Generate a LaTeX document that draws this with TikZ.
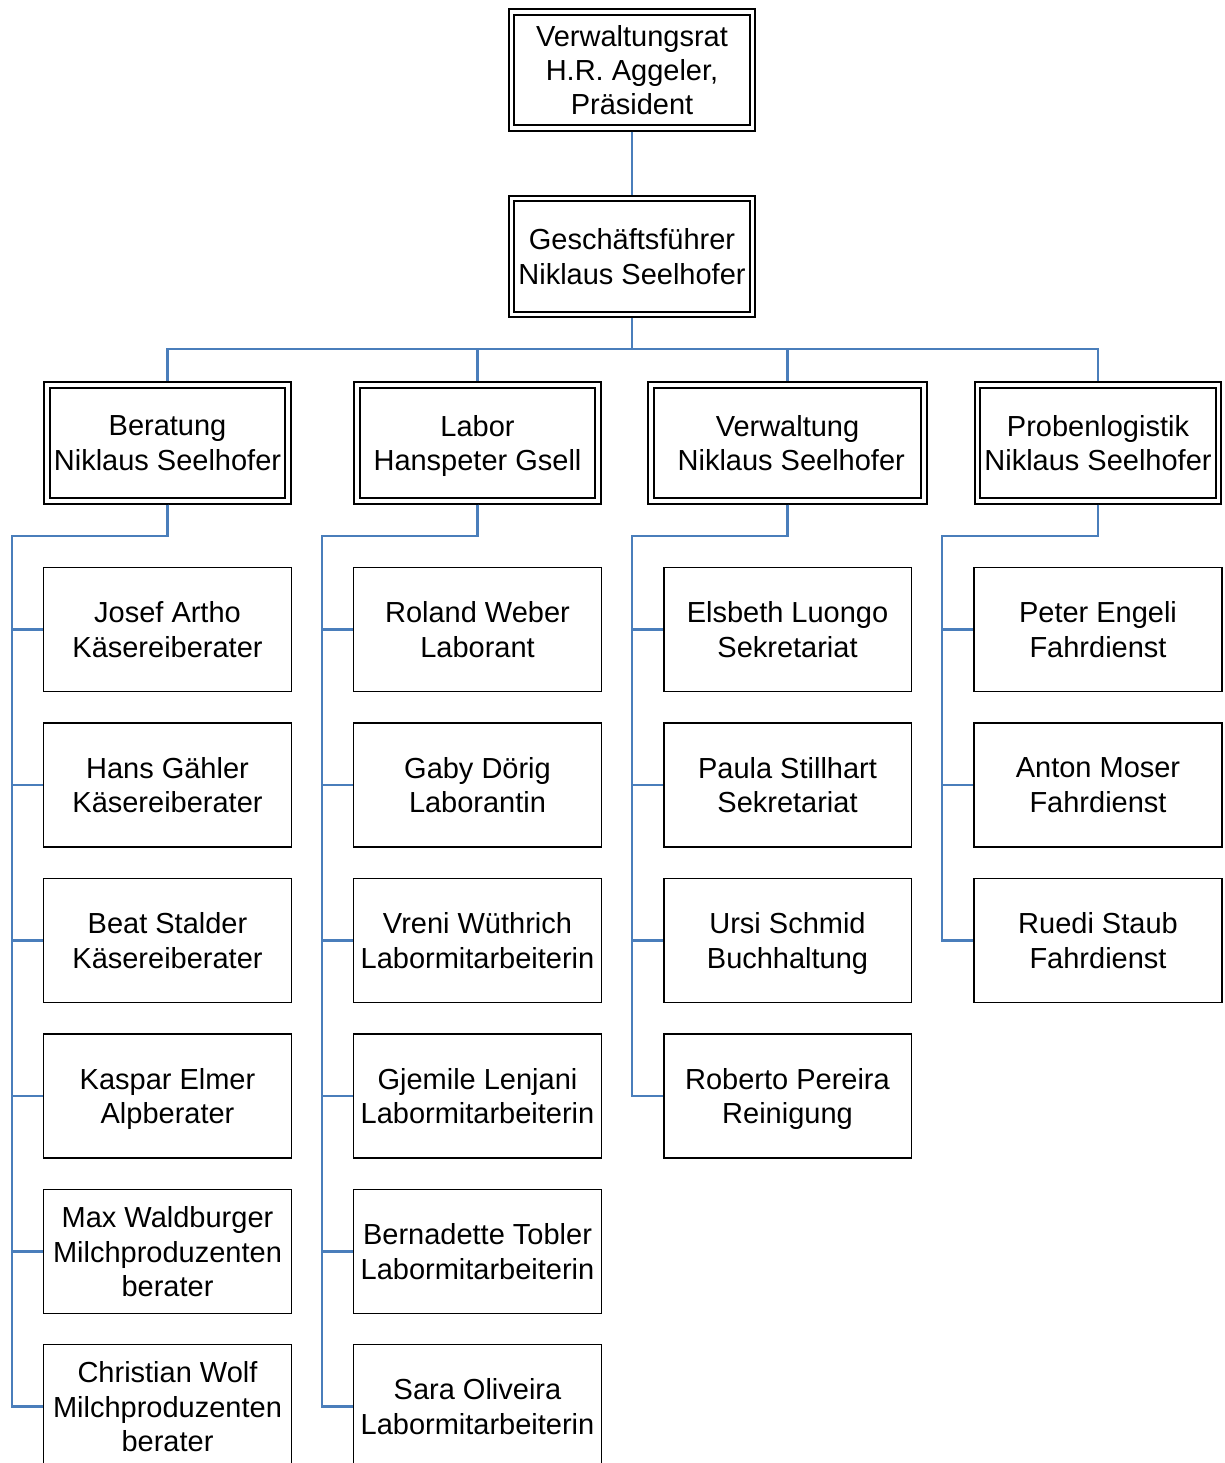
\documentclass[tikz,border=0pt]{standalone}
\usepackage{fontspec}
\setmainfont{Liberation Sans}
\usepackage{tikz}
\usetikzlibrary{positioning}
\definecolor{linkblue}{HTML}{4A7EBB}
\tikzset{
  chef/.style={draw, double, line width=1.1pt, double distance=2pt, outer sep=2.1pt,
    minimum width=4.82cm, minimum height=2.32cm, inner sep=0pt, align=center,
    text depth=0pt, font=\fontsize{16.5}{19.6}\selectfont},
  person/.style={draw, line width=1.1pt, minimum width=4.96cm, minimum height=2.48cm,
    inner sep=0pt, align=center, text depth=0pt, font=\fontsize{16.5}{19.6}\selectfont},
  link/.style={draw=linkblue, line width=1.2pt}
}
\begin{document}
\begin{tikzpicture}[x=0.02cm,y=-0.02cm]

    \useasboundingbox (0,0) rectangle (1224,1463);
    \clip (0,0) rectangle (1224,1463);

    % Leitung
    \node[chef] (vr) at (632,70) {Verwaltungsrat\\H.R. Aggeler,\\Präsident};
    \node[chef] (gf) at (632,256.5) {Geschäftsführer\\Niklaus Seelhofer};

    % Abteilungen
    \node[chef] (beratung) at (167.5,443) {Beratung\\Niklaus Seelhofer};
    \node[chef] (labor) at (477.5,443) {Labor\\Hanspeter Gsell};
    \node[chef, minimum width=5.46cm] (verwaltung) at (787.5,443) {Verwaltung\\\hspace*{0.15cm}Niklaus Seelhofer};
    \node[chef] (proben) at (1098,443) {Probenlogistik\\Niklaus Seelhofer};

    % Beratung
    \node[person] (b1) at (167.5,629.5) {Josef Artho\\Käsereiberater};
    \node[person] (b2) at (167.5,785) {Hans Gähler\\Käsereiberater};
    \node[person] (b3) at (167.5,940.5) {Beat Stalder\\Käsereiberater};
    \node[person] (b4) at (167.5,1096) {Kaspar Elmer\\Alpberater};
    \node[person] (b5) at (167.5,1251.5) {Max Waldburger\\Milchproduzenten\\berater};
    \node[person] (b6) at (167.5,1406.5) {Christian Wolf\\Milchproduzenten\\berater};

    % Labor
    \node[person] (l1) at (477.5,629.5) {Roland Weber\\Laborant};
    \node[person] (l2) at (477.5,785) {Gaby Dörig\\Laborantin};
    \node[person] (l3) at (477.5,940.5) {Vreni Wüthrich\\Labormitarbeiterin};
    \node[person] (l4) at (477.5,1096) {Gjemile Lenjani\\Labormitarbeiterin};
    \node[person] (l5) at (477.5,1251.5) {Bernadette Tobler\\Labormitarbeiterin};
    \node[person] (l6) at (477.5,1406.5) {Sara Oliveira\\Labormitarbeiterin};

    % Verwaltung
    \node[person] (v1) at (787.5,629.5) {Elsbeth Luongo\\Sekretariat};
    \node[person] (v2) at (787.5,785) {Paula Stillhart\\Sekretariat};
    \node[person] (v3) at (787.5,940.5) {Ursi Schmid\\Buchhaltung};
    \node[person] (v4) at (787.5,1096) {Roberto Pereira\\Reinigung};

    % Probenlogistik
    \node[person] (p1) at (1098,629.5) {Peter Engeli\\Fahrdienst};
    \node[person] (p2) at (1098,785) {Anton Moser\\Fahrdienst};
    \node[person] (p3) at (1098,940.5) {Ruedi Staub\\Fahrdienst};

    \draw[link] (vr.south) -- (gf.north);
    \draw[link] (gf.south) -- ++(0,31) -| (beratung.north);
    \draw[link] (gf.south) -- ++(0,31) -| (labor.north);
    \draw[link] (gf.south) -- ++(0,31) -| (verwaltung.north);
    \draw[link] (gf.south) -- ++(0,31) -| (proben.north);

    \draw[link] (beratung.south) -- ++(0,31) -| ([xshift=-0.62cm]b1.west) -- (b1.west);
    \draw[link] (beratung.south) -- ++(0,31) -| ([xshift=-0.62cm]b2.west) -- (b2.west);
    \draw[link] (beratung.south) -- ++(0,31) -| ([xshift=-0.62cm]b3.west) -- (b3.west);
    \draw[link] (beratung.south) -- ++(0,31) -| ([xshift=-0.62cm]b4.west) -- (b4.west);
    \draw[link] (beratung.south) -- ++(0,31) -| ([xshift=-0.62cm]b5.west) -- (b5.west);
    \draw[link] (beratung.south) -- ++(0,31) -| ([xshift=-0.62cm]b6.west) -- (b6.west);

    \draw[link] (labor.south) -- ++(0,31) -| ([xshift=-0.62cm]l1.west) -- (l1.west);
    \draw[link] (labor.south) -- ++(0,31) -| ([xshift=-0.62cm]l2.west) -- (l2.west);
    \draw[link] (labor.south) -- ++(0,31) -| ([xshift=-0.62cm]l3.west) -- (l3.west);
    \draw[link] (labor.south) -- ++(0,31) -| ([xshift=-0.62cm]l4.west) -- (l4.west);
    \draw[link] (labor.south) -- ++(0,31) -| ([xshift=-0.62cm]l5.west) -- (l5.west);
    \draw[link] (labor.south) -- ++(0,31) -| ([xshift=-0.62cm]l6.west) -- (l6.west);

    \draw[link] (verwaltung.south) -- ++(0,31) -| ([xshift=-0.62cm]v1.west) -- (v1.west);
    \draw[link] (verwaltung.south) -- ++(0,31) -| ([xshift=-0.62cm]v2.west) -- (v2.west);
    \draw[link] (verwaltung.south) -- ++(0,31) -| ([xshift=-0.62cm]v3.west) -- (v3.west);
    \draw[link] (verwaltung.south) -- ++(0,31) -| ([xshift=-0.62cm]v4.west) -- (v4.west);

    \draw[link] (proben.south) -- ++(0,31) -| ([xshift=-0.62cm]p1.west) -- (p1.west);
    \draw[link] (proben.south) -- ++(0,31) -| ([xshift=-0.62cm]p2.west) -- (p2.west);
    \draw[link] (proben.south) -- ++(0,31) -| ([xshift=-0.62cm]p3.west) -- (p3.west);

  \end{tikzpicture}
\end{document}
